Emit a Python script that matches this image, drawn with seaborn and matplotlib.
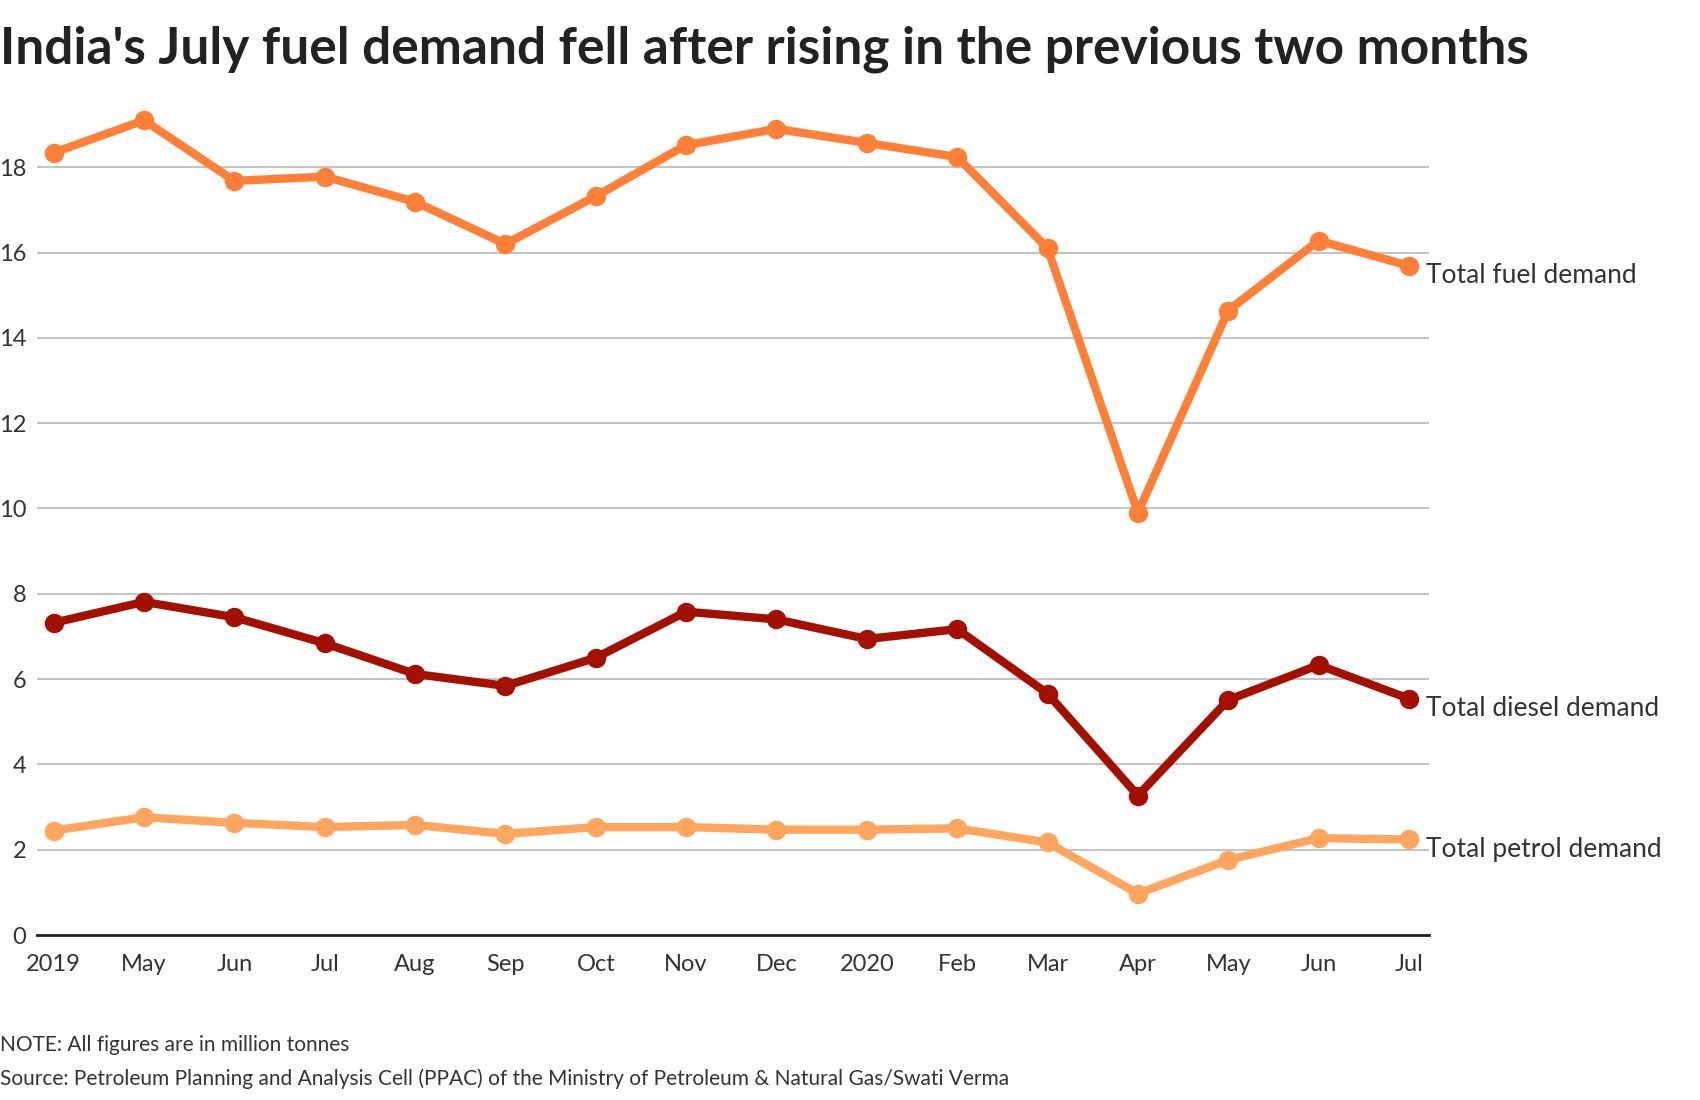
import pandas as pd
import seaborn as sns
import matplotlib.pyplot as plt

# Monthly demand, April 2019 to July 2020 (million tonnes)
months = ["2019", "May", "Jun", "Jul", "Aug", "Sep", "Oct", "Nov", "Dec",
          "2020", "Feb", "Mar", "Apr", "May", "Jun", "Jul"]
fuel = [18.34, 19.10, 17.68, 17.78, 17.19, 16.20, 17.32, 18.52, 18.90,
        18.57, 18.24, 16.10, 9.90, 14.64, 16.28, 15.69]
diesel = [7.32, 7.81, 7.45, 6.84, 6.12, 5.84, 6.50, 7.58, 7.40,
          6.94, 7.17, 5.66, 3.27, 5.51, 6.33, 5.54]
petrol = [2.45, 2.76, 2.63, 2.53, 2.58, 2.37, 2.53, 2.53, 2.47,
          2.47, 2.50, 2.17, 0.97, 1.76, 2.27, 2.24]

series_names = ["Total fuel demand", "Total diesel demand", "Total petrol demand"]
colors = ["#FF7F37", "#A31000", "#FFA55E"]

# Build long table for seaborn
frames = []
for name, vals in zip(series_names, [fuel, diesel, petrol]):
    frames.append(pd.DataFrame({"idx": range(len(months)), "value": vals, "series": name}))
df = pd.concat(frames, ignore_index=True)

sns.set_style("white")
plt.rcParams['font.family'] = ['Lato', 'DejaVu Sans']

fig = plt.figure(figsize=(17, 11), dpi=100)
ax = fig.add_axes([0.022, 0.15, 0.8185, 0.76])

sns.lineplot(data=df, x="idx", y="value", hue="series", hue_order=series_names,
             palette=colors, marker="o", markersize=14, markeredgewidth=0,
             linewidth=6, legend=False, ax=ax, zorder=3)

ax.set_xlim(-0.18, 15.22)
ax.set_ylim(0, 19.6)
ax.set_yticks(range(0, 20, 2))
ax.set_xticks(range(len(months)))
ax.set_xticklabels(months)
ax.set_xlabel("")
ax.set_ylabel("")

ax.grid(axis="y", color="#C4C4C4", linewidth=1.5, zorder=0)
ax.grid(axis="x", visible=False)
for s in ["top", "right", "left"]:
    ax.spines[s].set_visible(False)
ax.spines["bottom"].set_color("#222222")
ax.spines["bottom"].set_linewidth(2)

ax.tick_params(axis="both", length=0, labelsize=17, colors="#333333")
ax.tick_params(axis="x", pad=14)
ax.tick_params(axis="y", pad=8)

# direct labels at the end of each line
for name, vals in zip(series_names, [fuel, diesel, petrol]):
    ax.annotate(name, xy=(len(months) - 1, vals[-1]), xytext=(12, -7),
                textcoords="offset points", va="center", ha="left",
                fontsize=19, color="#333333", annotation_clip=False)

fig.text(0.0, 0.955, "India's July fuel demand fell after rising in the previous two months",
         fontsize=37, fontweight="bold", color="#222222", va="center", ha="left")

fig.text(0.0, 0.05, "NOTE: All figures are in million tonnes",
         fontsize=15, color="#333333", va="center")
fig.text(0.0, 0.019,
         "Source: Petroleum Planning and Analysis Cell (PPAC) of the Ministry of Petroleum & Natural Gas/Swati Verma",
         fontsize=15, color="#333333", va="center")

fig.savefig("out.png", dpi=100, facecolor="white")
